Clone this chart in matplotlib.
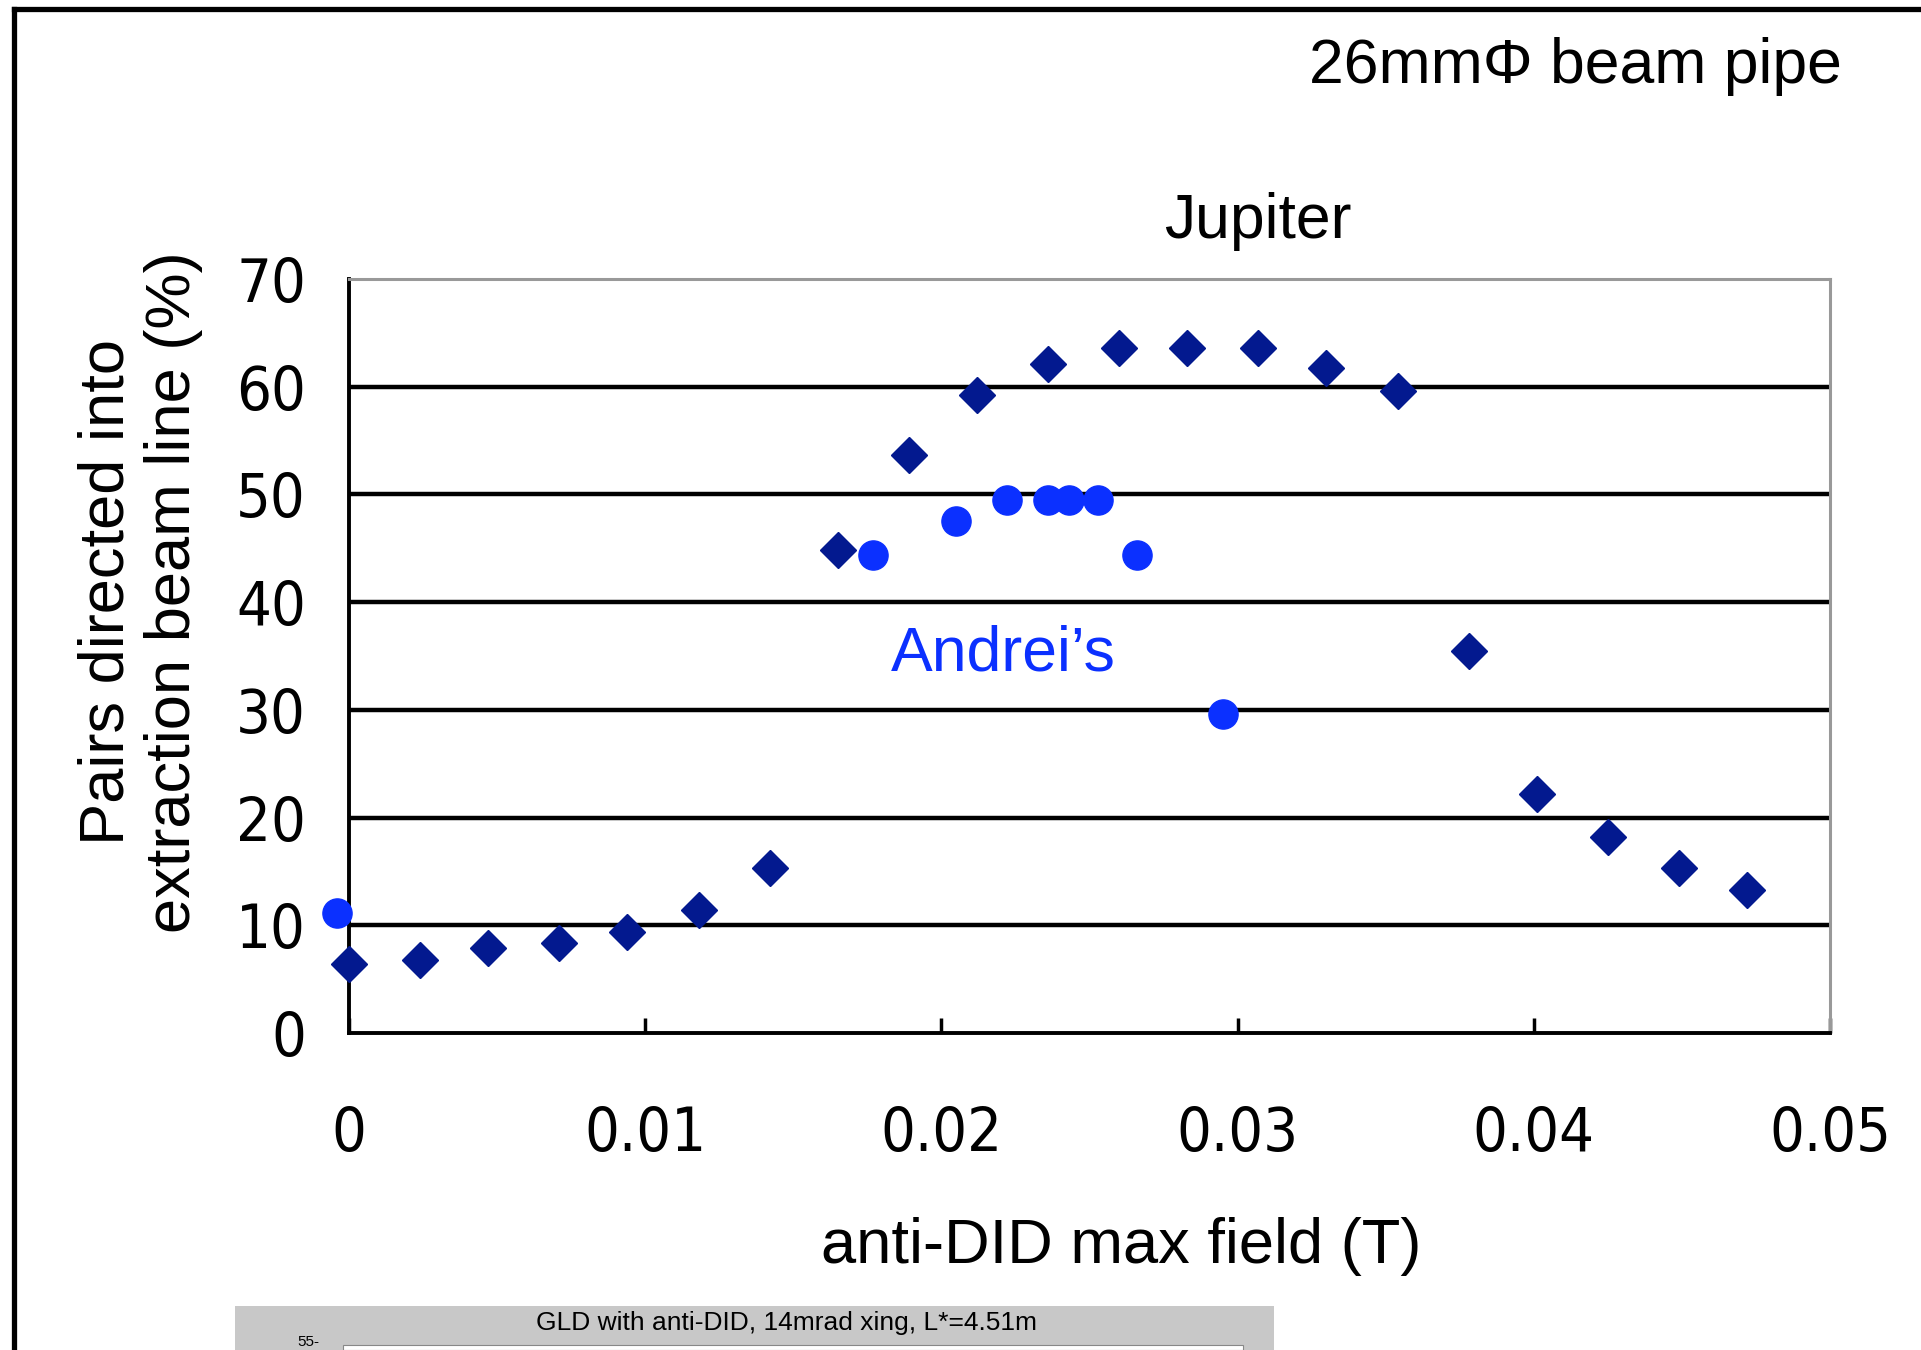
import matplotlib
matplotlib.use("Agg")
import matplotlib.pyplot as plt
from matplotlib.lines import Line2D
from matplotlib.patches import Rectangle

# Jupiter simulation (diamonds)
jup_field = [0.0, 0.0024, 0.0047, 0.0071, 0.0094, 0.0118, 0.0142, 0.0165, 0.0189,
             0.0212, 0.0236, 0.0260, 0.0283, 0.0307, 0.0330, 0.0354, 0.0378,
             0.0401, 0.0425, 0.0449, 0.0472]
jup_pct = [6.4, 6.8, 7.9, 8.4, 9.4, 11.4, 15.3, 44.8, 53.7, 59.2, 62.1, 63.6,
           63.6, 63.6, 61.7, 59.6, 35.5, 22.2, 18.2, 15.3, 13.3]

# Andrei's results (circles)
andrei_field = [-0.0004, 0.0177, 0.0205, 0.0222, 0.0236, 0.0243, 0.0253, 0.0266, 0.0295]
andrei_pct = [11.1, 44.4, 47.5, 49.5, 49.5, 49.5, 49.5, 44.4, 29.6]

xticks = [0, 0.01, 0.02, 0.03, 0.04, 0.05]
xticklabels = ["0", "0.01", "0.02", "0.03", "0.04", "0.05"]
yticks = [0, 10, 20, 30, 40, 50, 60, 70]

navy = "#03198F"
blue = "#0B30FF"
sans = ["Liberation Sans", "DejaVu Sans"]

fig = plt.figure(figsize=(19.21, 13.5), dpi=100)
ax = fig.add_axes([0.1817, 0.2348, 0.9526 - 0.1817, 0.7933 - 0.2348])

ax.plot(jup_field, jup_pct, "D", color=navy, markersize=18, clip_on=False, zorder=4)
ax.plot(andrei_field, andrei_pct, "o", color=blue, markersize=21, clip_on=False, zorder=5)

ax.set_xlim(0, 0.05)
ax.set_ylim(0, 70)
ax.set_xticks(xticks)
ax.set_xticklabels(xticklabels, family="DejaVu Sans", stretch="condensed", fontsize=44)
ax.set_yticks(yticks)
ax.set_yticklabels([str(v) for v in yticks], family="DejaVu Sans", stretch="condensed",
                   fontsize=44)
ax.tick_params(axis="x", direction="in", length=11, width=2.5, pad=52)
ax.tick_params(axis="y", length=0, pad=31)

for v in yticks[1:-1]:
    ax.axhline(v, color="black", lw=3.2, zorder=1)

ax.spines["left"].set_linewidth(2.8)
ax.spines["bottom"].set_linewidth(2.8)
for s in ("top", "right"):
    ax.spines[s].set_color("#999999")
    ax.spines[s].set_linewidth(2.2)

ax.text(0.0221, 35.2, "Andrei\u2019s", color=blue, fontsize=45, family=sans,
        ha="center", va="center")

fig.text(0.655, 0.836, "Jupiter", fontsize=45, family=sans, ha="center", va="center")
fig.text(0.959, 0.951, "26mm\u03a6 beam pipe", fontsize=45, family=sans, ha="right", va="center")
fig.text(0.5835, 0.0763, "anti-DID max field (T)", fontsize=45.5, family=sans,
         ha="center", va="center")
fig.text(0.073, 0.5615, "Pairs directed into\nextraction beam line (%)", fontsize=45.5,
         family=sans, rotation=90, ha="center", va="center", linespacing=1.17)

# slide frame
fig.add_artist(Line2D([0.0075, 1.0], [0.9935, 0.9935], color="black", lw=3.8,
                      transform=fig.transFigure))
fig.add_artist(Line2D([0.0075, 0.0075], [0.0, 0.9935], color="black", lw=3.8,
                      transform=fig.transFigure))

# top of the next embedded plot
fig.add_artist(Rectangle((235 / 1921, 0.0), (1274 - 235) / 1921, 44 / 1350,
                         facecolor="#C8C8C8", edgecolor="none", transform=fig.transFigure))
fig.add_artist(Rectangle((343 / 1921, 0.0), (1243 - 343) / 1921, 5 / 1350,
                         facecolor="white", edgecolor="#888888", lw=0.8,
                         transform=fig.transFigure))
fig.text(786 / 1921, 1 - 1323 / 1350, "GLD with anti-DID, 14mrad xing, L*=4.51m",
         fontsize=19, family=sans, ha="center", va="center")
fig.text(0.155, 0.0005, "55-", fontsize=11, family=sans, ha="left", va="bottom")

fig.savefig("out.png", dpi=100)
